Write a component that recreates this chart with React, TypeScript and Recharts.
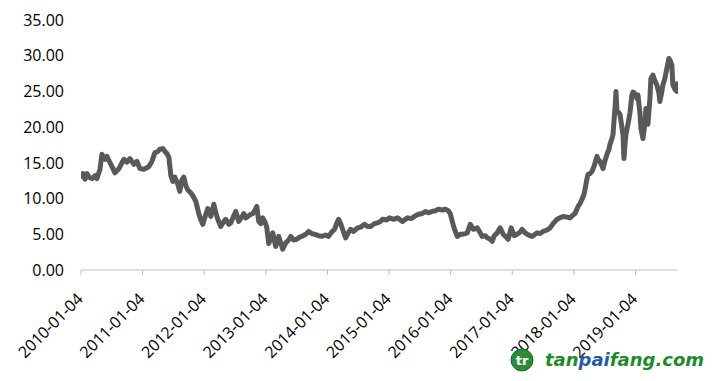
import React from 'react';
import { LineChart, Line, XAxis, YAxis } from 'recharts';

// time in years since 2010-01-04
const yearOffsets = [
  0.000, 0.032, 0.065, 0.097, 0.130, 0.178, 0.227, 0.259, 0.308, 0.340, 0.389, 0.421, 0.454, 0.502, 0.551, 0.616,
  0.664, 0.697, 0.746, 0.794, 0.859, 0.908, 0.956, 1.021, 1.070, 1.102, 1.151, 1.199, 1.248, 1.280, 1.329, 1.361,
  1.394, 1.426, 1.459, 1.491, 1.523, 1.572, 1.604, 1.637, 1.669, 1.702, 1.734, 1.783, 1.815, 1.864, 1.912, 1.945,
  1.977, 2.026, 2.058, 2.107, 2.156, 2.188, 2.220, 2.269, 2.318, 2.350, 2.399, 2.431, 2.480, 2.512, 2.561, 2.609,
  2.642, 2.674, 2.707, 2.755, 2.788, 2.820, 2.853, 2.885, 2.917, 2.950, 2.982, 3.015, 3.047, 3.079, 3.112, 3.160,
  3.209, 3.241, 3.274, 3.323, 3.371, 3.404, 3.452, 3.501, 3.549, 3.582, 3.647, 3.695, 3.744, 3.793, 3.857, 3.906,
  3.971, 4.019, 4.068, 4.117, 4.149, 4.181, 4.214, 4.246, 4.295, 4.344, 4.376, 4.425, 4.489, 4.538, 4.603, 4.651,
  4.700, 4.765, 4.813, 4.862, 4.894, 4.959, 5.008, 5.073, 5.137, 5.218, 5.299, 5.364, 5.413, 5.427, 5.476, 5.540,
  5.589, 5.638, 5.702, 5.751, 5.800, 5.864, 5.913, 5.962, 5.994, 6.026, 6.059, 6.107, 6.156, 6.188, 6.237, 6.269,
  6.318, 6.367, 6.431, 6.480, 6.512, 6.561, 6.593, 6.642, 6.674, 6.707, 6.755, 6.804, 6.853, 6.901, 6.934, 6.982,
  7.031, 7.079, 7.128, 7.160, 7.209, 7.241, 7.290, 7.322, 7.371, 7.403, 7.452, 7.501, 7.565, 7.614, 7.663, 7.727,
  7.776, 7.825, 7.889, 7.938, 7.987, 8.019, 8.068, 8.100, 8.132, 8.165, 8.181, 8.213, 8.230, 8.262, 8.294, 8.327,
  8.375, 8.392, 8.424, 8.473, 8.505, 8.537, 8.570, 8.586, 8.618, 8.635, 8.651, 8.667, 8.683, 8.699, 8.732, 8.748,
  8.780, 8.797, 8.813, 8.829, 8.845, 8.878, 8.910, 8.942, 8.959, 8.991, 9.023, 9.040, 9.072, 9.088, 9.121, 9.153,
  9.169, 9.202, 9.234, 9.250, 9.283, 9.315, 9.347, 9.380, 9.396, 9.428, 9.445, 9.477, 9.509, 9.542, 9.558, 9.590,
  9.607, 9.639, 9.671, 9.688,
];

const prices = [
  12.8, 13.5, 12.7, 13.5, 13.0, 12.8, 13.2, 12.8, 14.1, 16.2, 15.5, 15.9, 15.3, 14.5, 13.6, 14.2,
  15.0, 15.5, 15.1, 15.6, 14.8, 15.2, 14.2, 14.1, 14.3, 14.5, 15.2, 16.4, 16.6, 16.9, 17.0, 16.6,
  16.3, 15.8, 13.2, 12.4, 13.0, 12.0, 11.0, 12.6, 13.0, 11.8, 11.2, 10.8, 10.4, 9.6, 7.9, 7.0,
  6.4, 7.8, 8.6, 7.5, 9.2, 8.0, 7.1, 6.1, 6.8, 7.1, 6.4, 6.6, 7.6, 8.2, 6.8, 7.4,
  7.9, 7.3, 7.5, 7.8, 7.9, 8.3, 8.9, 6.8, 6.5, 7.3, 6.8, 6.0, 3.7, 4.4, 5.2, 3.3,
  4.7, 3.8, 2.9, 3.8, 4.2, 4.7, 4.2, 4.3, 4.6, 4.7, 5.0, 5.4, 5.1, 5.0, 4.8, 4.7,
  4.9, 4.7, 5.3, 5.7, 6.5, 7.1, 6.5, 5.7, 4.5, 5.3, 5.7, 5.4, 5.9, 6.0, 6.4, 6.1,
  6.1, 6.5, 6.6, 6.8, 7.1, 7.0, 7.3, 7.1, 7.3, 6.8, 7.3, 7.2, 7.5, 7.6, 7.8, 7.9,
  8.2, 8.0, 8.2, 8.3, 8.5, 8.4, 8.5, 8.3, 7.9, 6.8, 5.8, 4.7, 5.0, 5.0, 5.1, 5.2,
  6.4, 5.7, 5.9, 5.2, 4.7, 4.8, 4.5, 4.3, 4.0, 4.8, 5.2, 5.9, 5.0, 4.6, 4.3, 5.9,
  4.8, 5.0, 5.3, 5.7, 5.2, 5.0, 4.8, 4.7, 5.0, 5.2, 5.1, 5.4, 5.6, 5.9, 6.5, 7.1,
  7.3, 7.5, 7.4, 7.3, 7.7, 7.9, 8.9, 9.3, 9.9, 10.6, 11.3, 12.8, 13.4, 13.5, 13.8, 14.5,
  15.9, 15.5, 15.2, 14.2, 15.3, 16.2, 16.9, 17.6, 18.4, 19.0, 20.8, 22.5, 25.0, 22.2, 22.0, 21.8,
  20.0, 19.0, 15.6, 17.5, 19.0, 20.4, 22.0, 24.5, 24.9, 24.7, 24.0, 24.5, 22.0, 19.8, 18.4, 20.5,
  22.6, 20.4, 24.0, 26.8, 27.3, 26.5, 25.9, 24.8, 23.6, 25.0, 25.9, 26.8, 28.2, 29.6, 29.4, 28.7,
  25.9, 25.3, 25.0, 26.4,
];

const yearTicks = [0, 1, 2, 3, 4, 5, 6, 7, 8, 9];
const yearTickLabels = [
  '2010-01-04', '2011-01-04', '2012-01-04', '2013-01-04', '2014-01-04',
  '2015-01-04', '2016-01-04', '2017-01-04', '2018-01-04', '2019-01-04',
];
const valueTicks = [0, 5, 10, 15, 20, 25, 30, 35];

const data = yearOffsets.map((t, i) => ({ t, price: prices[i] }));

const FONT = "'Open Sans', 'DejaVu Sans', sans-serif";

const XTick = (props: any) => {
  const { x, y, payload } = props;
  const idx = yearTicks.indexOf(payload.value);
  const label = idx >= 0 ? yearTickLabels[idx] : '';
  return (
    <g transform={`translate(${x + 3},${y + 23})`}>
      <text x={0} y={0} textAnchor="end" transform="rotate(-45)" fontSize={16} fontFamily={FONT} fill="#000">
        {label}
      </text>
    </g>
  );
};

export default function App() {
  return (
    <div style={{ position: 'relative', width: 697, height: 365 }}>
      <LineChart
        width={697}
        height={365}
        data={data}
        margin={{ top: 12, right: 27, bottom: 0, left: 0 }}
      >
        <XAxis
          dataKey="t"
          type="number"
          domain={[0, 9.69]}
          ticks={yearTicks}
          interval={0}
          allowDataOverflow
          height={103}
          tickSize={5}
          tick={<XTick />}
          axisLine={{ stroke: '#bfbfbf', strokeWidth: 1 }}
          tickLine={{ stroke: '#bfbfbf', strokeWidth: 1 }}
        />
        <YAxis
          type="number"
          domain={[0, 35]}
          ticks={valueTicks}
          interval={0}
          width={73}
          axisLine={false}
          tickLine={false}
          tickSize={0}
          tickMargin={17}
          tickFormatter={(v: number) => v.toFixed(2)}
          tick={{ fontSize: 16, fontFamily: FONT, fill: '#000' }}
        />
        <Line
          type="linear"
          dataKey="price"
          stroke="#595959"
          strokeWidth={5}
          dot={false}
          isAnimationActive={false}
          strokeLinejoin="round"
        />
      </LineChart>
      <svg
        width={697}
        height={365}
        style={{ position: 'absolute', left: 0, top: 0, pointerEvents: 'none' }}
      >
        <circle cx={514} cy={352} r={11} fill="#2e8b3a" stroke="#1d6b2a" strokeWidth={1} />
        <text x={514} y={357} textAnchor="middle" fontSize={13} fontWeight="bold" fontFamily="'DejaVu Sans', sans-serif" fill="#ffffff">
          tr
        </text>
        <text x={537} y={358} fontSize={18} fontWeight="bold" fontStyle="italic" fontFamily="'DejaVu Sans', sans-serif">
          <tspan fill="#1e8a2c">tan</tspan>
          <tspan fill="#1f5ea8">pai</tspan>
          <tspan fill="#1e8a2c">fang.com</tspan>
        </text>
      </svg>
    </div>
  );
}
